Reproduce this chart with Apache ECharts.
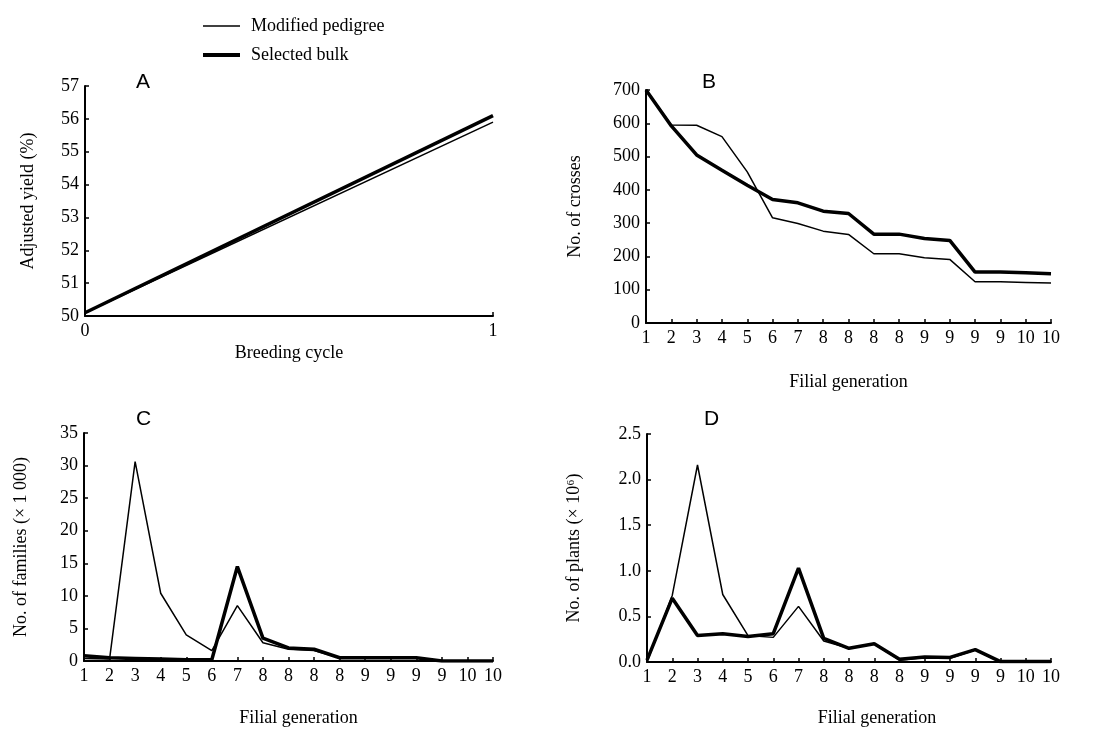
<!DOCTYPE html>
<html>
<head>
<meta charset="utf-8">
<script src="https://cdn.jsdelivr.net/npm/echarts@6/dist/echarts.min.js"></script>
<style>
  html, body { margin: 0; padding: 0; background: #fff; }
  #chart { width: 1099px; height: 729px; }
</style>
</head>
<body>
<div id="chart"></div>
<script>
// panel A: breeding cycle vs adjusted yield
var cycleA = [0, 1];
var pedigreeA = [50.1, 55.9];
var bulkA = [50.1, 56.1];

// filial generation labels shared by B, C, D
var generations = ['1', '2', '3', '4', '5', '6', '7', '8', '8', '8', '8', '9', '9', '9', '9', '10', '10'];

// panel B: number of crosses
var pedigreeB = [700, 595, 594, 560, 454, 316, 299, 276, 266, 208, 208, 196, 191, 124, 124, 122, 120];
var bulkB = [700, 592, 505, 459, 414, 371, 361, 336, 329, 267, 267, 254, 248, 153, 153, 151, 148];

// panel C: number of families (x 1000)
var pedigreeC = [0.4, 0.3, 30.6, 10.4, 4.0, 1.6, 8.5, 2.8, 1.8, 1.6, 0.5, 0.5, 0.5, 0.5, 0, 0, 0];
var bulkC = [0.8, 0.5, 0.4, 0.3, 0.2, 0.2, 14.5, 3.5, 2.0, 1.8, 0.5, 0.5, 0.5, 0.5, 0, 0, 0];

// panel D: number of plants (x 10^6)
var pedigreeD = [0.0, 0.73, 2.16, 0.74, 0.29, 0.27, 0.61, 0.23, 0.15, 0.2, 0.02, 0.05, 0.04, 0.13, 0.0, 0.0, 0.0];
var bulkD = [0.02, 0.70, 0.29, 0.31, 0.28, 0.31, 1.03, 0.26, 0.15, 0.2, 0.03, 0.055, 0.05, 0.135, 0.005, 0.005, 0.005];

var serif = 'Liberation Serif';

function axisBase() {
    return {
        axisLine: { show: true, lineStyle: { color: '#000', width: 2 } },
        axisTick: { show: true, inside: true, length: 4, lineStyle: { color: '#000', width: 1.5 } },
        axisLabel: { color: '#000', fontFamily: serif, fontSize: 18, margin: 6 },
        splitLine: { show: false },
        nameLocation: 'middle',
        nameTextStyle: { color: '#000', fontFamily: serif, fontSize: 18 }
    };
}

function catAxis(grid, name, gap, shift) {
    var a = axisBase();
    a.type = 'category';
    a.gridIndex = grid;
    a.data = generations;
    a.boundaryGap = false;
    a.axisTick.alignWithLabel = true;
    a.axisTick.interval = 0;
    a.axisLabel.interval = 0;
    a.name = name;
    a.nameGap = gap;
    a.nameTextStyle.padding = [0, 0, 0, shift * 2];
    return a;
}

function valAxis(grid, name, gap, min, max, interval, fmt) {
    var a = axisBase();
    a.type = 'value';
    a.gridIndex = grid;
    a.min = min;
    a.max = max;
    a.interval = interval;
    a.name = name;
    a.nameGap = gap;
    if (fmt) a.axisLabel.formatter = fmt;
    return a;
}

function line(name, x, y, data, thick) {
    return {
        type: 'line',
        name: name,
        xAxisIndex: x,
        yAxisIndex: y,
        data: data,
        showSymbol: false,
        symbol: 'none',
        animation: false,
        lineStyle: { color: '#000', width: thick ? 3.5 : 1.5 },
        itemStyle: { color: '#000' },
        z: thick ? 2 : 3
    };
}

var myChart = echarts.init(document.getElementById('chart'));

var xA = axisBase();
xA.type = 'value';
xA.gridIndex = 0;
xA.min = 0;
xA.max = 1;
xA.interval = 1;
xA.name = 'Breeding cycle';
xA.nameGap = 28;

var option = {
    backgroundColor: '#fff',
    animation: false,
    title: [
        { text: 'A', left: 131, top: 67, textStyle: { fontFamily: 'Liberation Sans', fontSize: 21, fontWeight: 'normal', color: '#000' } },
        { text: 'B', left: 697, top: 67, textStyle: { fontFamily: 'Liberation Sans', fontSize: 21, fontWeight: 'normal', color: '#000' } },
        { text: 'C', left: 131, top: 404, textStyle: { fontFamily: 'Liberation Sans', fontSize: 21, fontWeight: 'normal', color: '#000' } },
        { text: 'D', left: 699, top: 404, textStyle: { fontFamily: 'Liberation Sans', fontSize: 21, fontWeight: 'normal', color: '#000' } }
    ],
    legend: [
        {
            data: ['Modified pedigree'], left: 198, top: 12, icon: 'rect',
            itemWidth: 37, itemHeight: 1.5, selectedMode: false,
            textStyle: { fontFamily: serif, fontSize: 18, color: '#000', padding: [0, 0, 0, 6] }
        },
        {
            data: ['Selected bulk'], left: 198, top: 41, icon: 'rect',
            itemWidth: 37, itemHeight: 4, selectedMode: false,
            textStyle: { fontFamily: serif, fontSize: 18, color: '#000', padding: [0, 0, 0, 6] }
        }
    ],
    grid: [
        { left: 85, top: 86, width: 408, height: 230 },
        { left: 646, top: 90, width: 405, height: 233 },
        { left: 84, top: 433, width: 409, height: 228 },
        { left: 647, top: 434, width: 404, height: 228 }
    ],
    xAxis: [
        xA,
        catAxis(1, 'Filial generation', 50, 0),
        catAxis(2, 'Filial generation', 48, 10),
        catAxis(3, 'Filial generation', 47, 28)
    ],
    yAxis: [
        valAxis(0, 'Adjusted yield (%)', 48, 50, 57, 1),
        valAxis(1, 'No. of crosses', 62, 0, 700, 100),
        valAxis(2, 'No. of families (× 1 000)', 54, 0, 35, 5),
        valAxis(3, 'No. of plants (× 10⁶)', 64, 0, 2.5, 0.5, function (v) { return v.toFixed(1); })
    ],
    series: [
        line('Modified pedigree', 0, 0, cycleA.map(function (c, i) { return [c, pedigreeA[i]]; }), false),
        line('Selected bulk', 0, 0, cycleA.map(function (c, i) { return [c, bulkA[i]]; }), true),
        line('Modified pedigree', 1, 1, pedigreeB, false),
        line('Selected bulk', 1, 1, bulkB, true),
        line('Modified pedigree', 2, 2, pedigreeC, false),
        line('Selected bulk', 2, 2, bulkC, true),
        line('Modified pedigree', 3, 3, pedigreeD, false),
        line('Selected bulk', 3, 3, bulkD, true)
    ]
};

myChart.setOption(option);
</script>
</body>
</html>
